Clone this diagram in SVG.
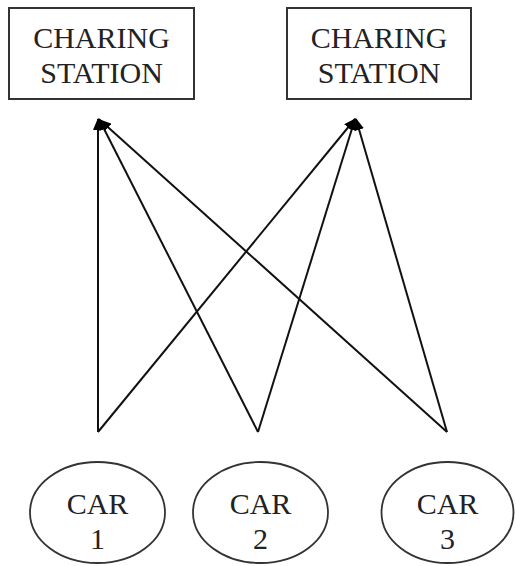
<svg xmlns="http://www.w3.org/2000/svg" width="516" height="566" viewBox="0 0 516 566">
  <style>
    .box { fill: #fff; stroke: #333; stroke-width: 2; }
    .car { fill: #fff; stroke: #333; stroke-width: 1.8; }
    .lbl { font-family: "Liberation Serif", "Times New Roman", serif; font-size: 30px; fill: #222; text-anchor: middle; }
    .edge { stroke: #111; stroke-width: 2; fill: none; marker-end: url(#head); }
  </style>
  <defs>
    <marker id="head" viewBox="0 0 12 10" refX="11" refY="5" markerWidth="12" markerHeight="10" markerUnits="userSpaceOnUse" orient="auto">
      <path d="M0,0 L12,5 L0,10 z" fill="#000"/>
    </marker>
  </defs>

  <g id="station-1">
    <rect class="box" x="9" y="8" width="185" height="91"/>
    <text class="lbl" x="101.5" y="48">CHARING</text>
    <text class="lbl" x="101.5" y="83">STATION</text>
  </g>
  <g id="station-2">
    <rect class="box" x="287" y="8" width="184" height="91"/>
    <text class="lbl" x="379" y="48">CHARING</text>
    <text class="lbl" x="379" y="83">STATION</text>
  </g>

  <g id="connectors">
    <line class="edge" x1="98" y1="432" x2="98" y2="119"/>
    <line class="edge" x1="98" y1="432" x2="355" y2="119"/>
    <line class="edge" x1="258" y1="432" x2="99" y2="119"/>
    <line class="edge" x1="258" y1="432" x2="355" y2="119"/>
    <line class="edge" x1="447" y1="432" x2="100" y2="120"/>
    <line class="edge" x1="447" y1="432" x2="356" y2="119"/>
  </g>

  <g id="car-1">
    <ellipse class="car" cx="97.5" cy="512.5" rx="67.5" ry="50.5"/>
    <text class="lbl" x="97.5" y="514">CAR</text>
    <text class="lbl" x="97.5" y="549">1</text>
  </g>
  <g id="car-2">
    <ellipse class="car" cx="260.5" cy="512.5" rx="67.5" ry="50.5"/>
    <text class="lbl" x="260.5" y="514">CAR</text>
    <text class="lbl" x="260.5" y="549">2</text>
  </g>
  <g id="car-3">
    <ellipse class="car" cx="447.5" cy="512.5" rx="66" ry="50.5"/>
    <text class="lbl" x="447.5" y="514">CAR</text>
    <text class="lbl" x="447.5" y="549">3</text>
  </g>
</svg>
